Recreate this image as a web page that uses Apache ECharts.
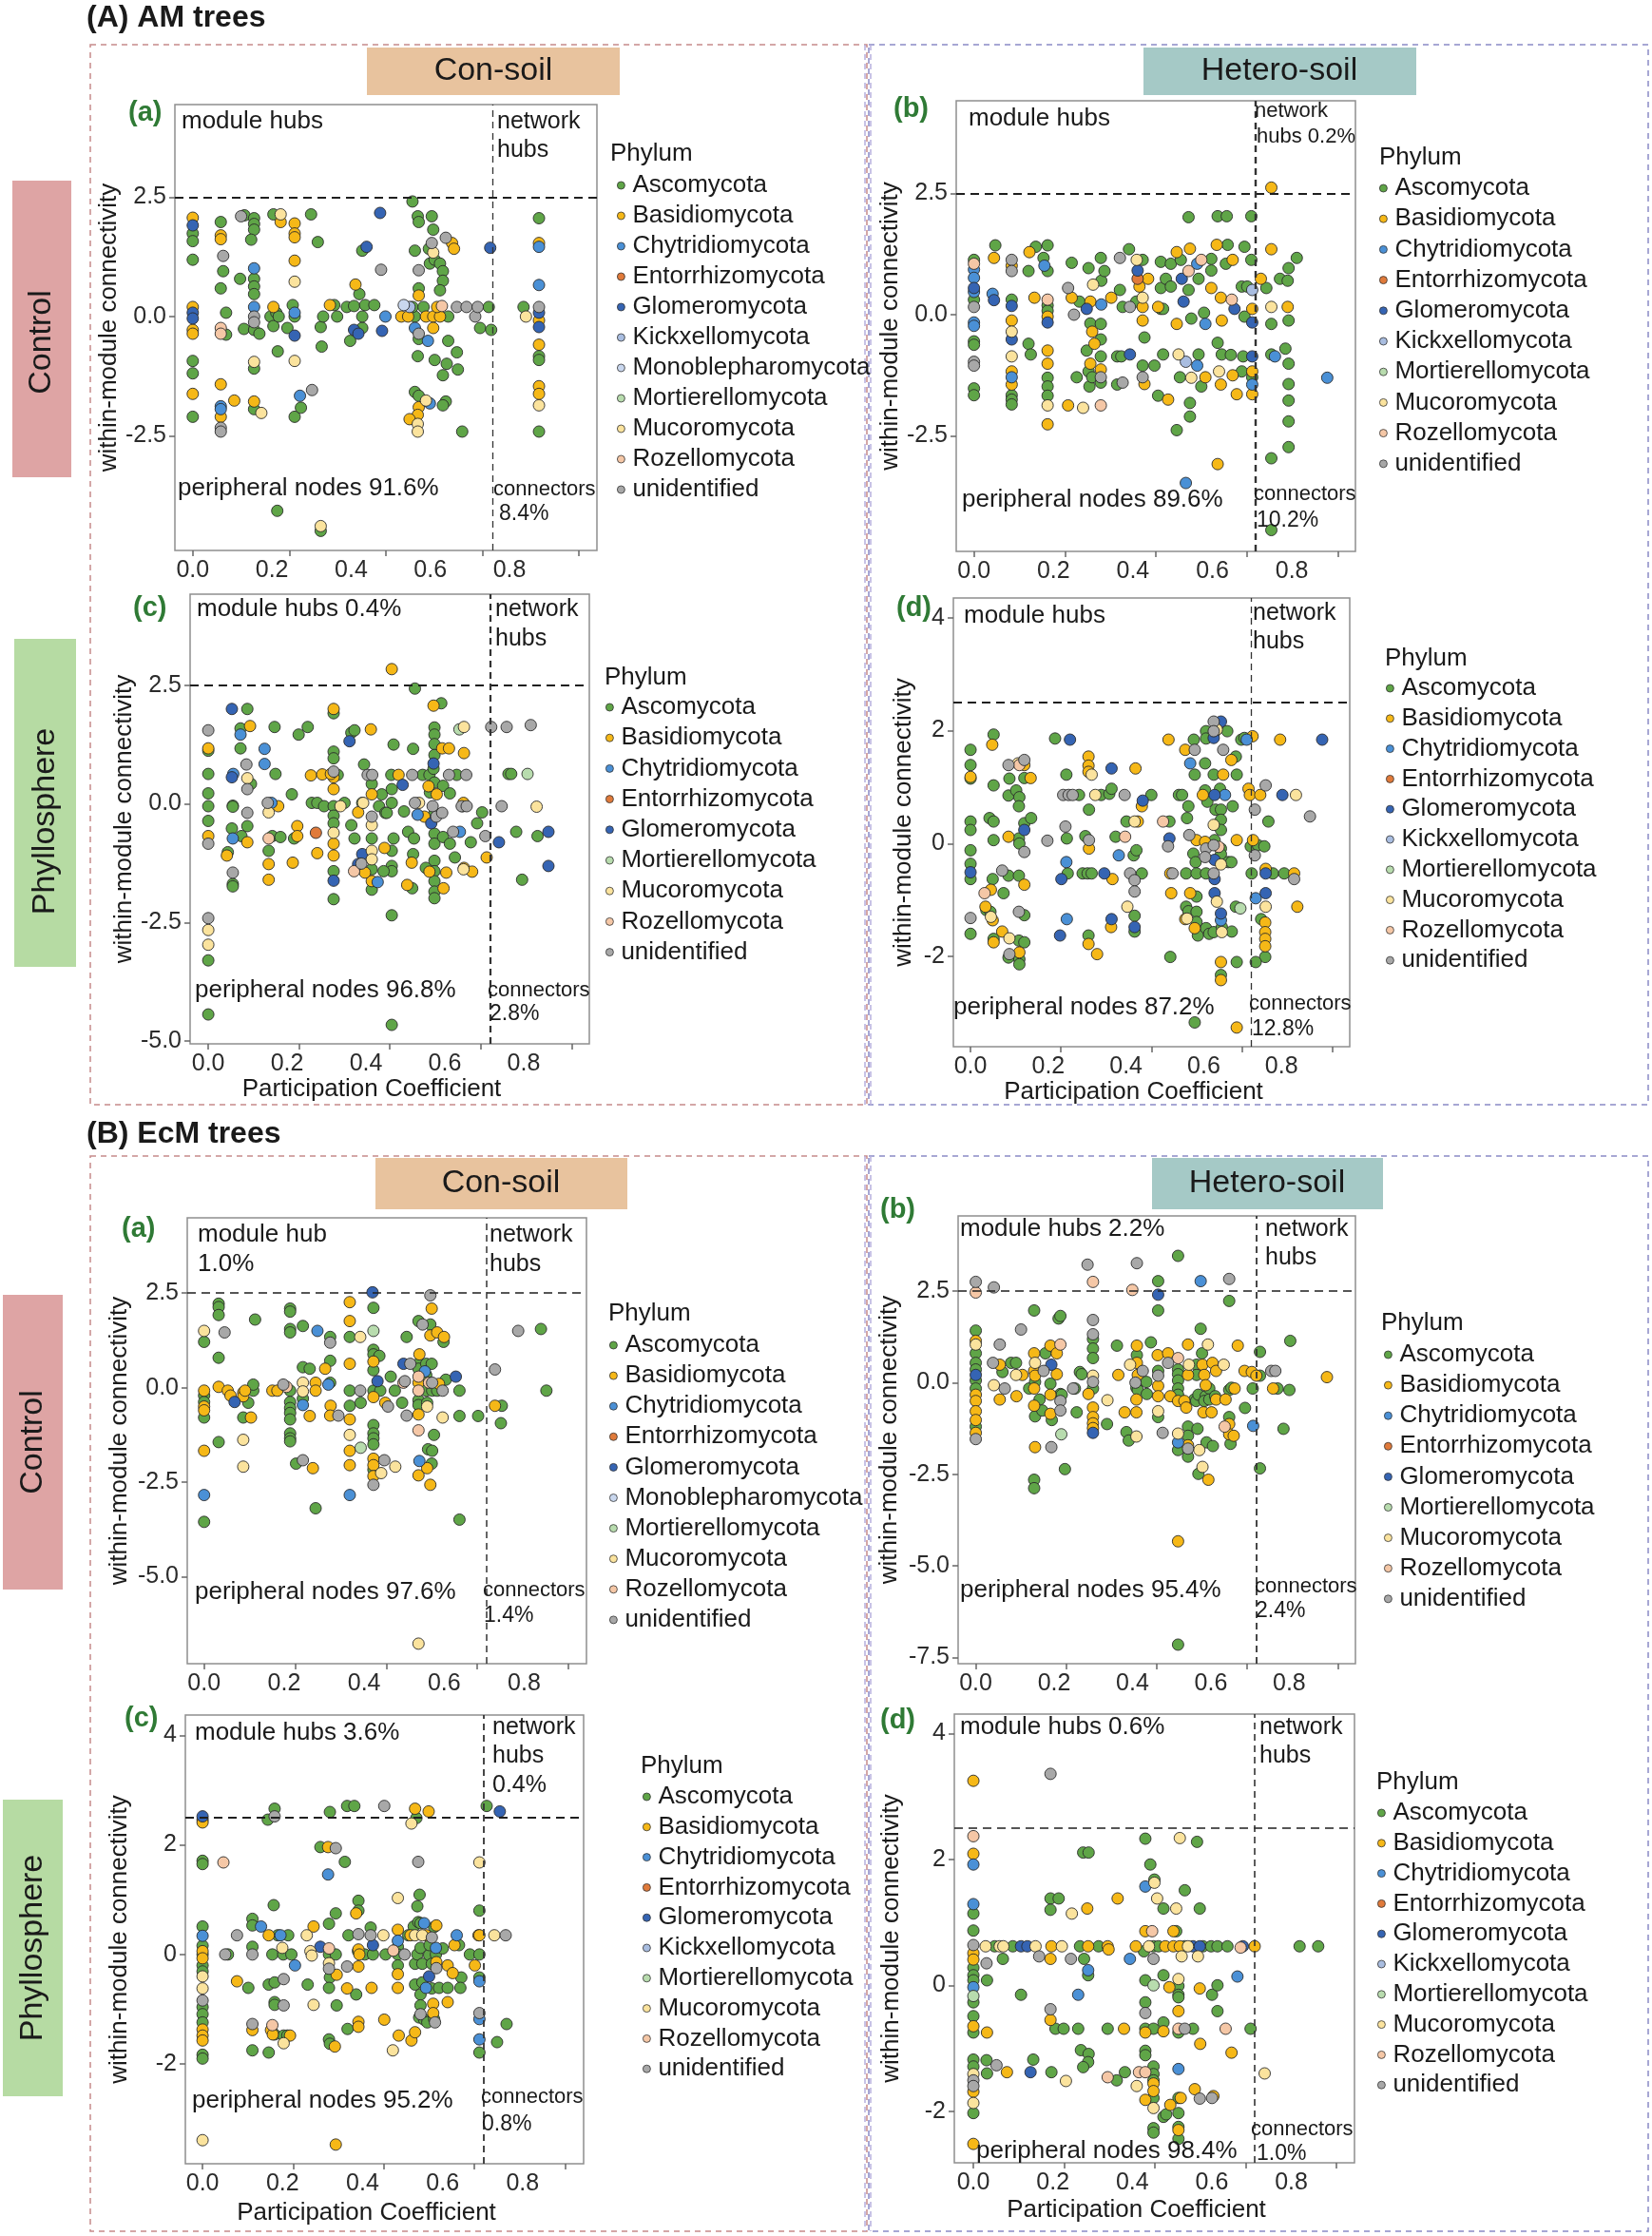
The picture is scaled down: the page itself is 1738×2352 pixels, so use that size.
<!DOCTYPE html>
<html>
<head>
<meta charset="utf-8">
<script src="https://cdn.jsdelivr.net/npm/echarts@6/dist/echarts.min.js"></script>
<style>
html, body { margin: 0; padding: 0; background: #fff; }
#chart { width: 1738px; height: 2352px; }
</style>
</head>
<body>
<div id="chart"></div>
<script>
// phylum names and colours
var phyla = ["Ascomycota", "Basidiomycota", "Chytridiomycota", "Entorrhizomycota", "Glomeromycota",
    "Kickxellomycota", "Monoblepharomycota", "Mortierellomycota", "Mucoromycota", "Rozellomycota", "unidentified"];
var phylumColors = ["#5fa547", "#f6b817", "#4a90d6", "#e07a3a", "#3564b3",
    "#a9bde0", "#c9d7ee", "#b8dcae", "#fbe39d", "#f5c7a6", "#a8a8a8"];
var xTicks = [0, 0.2, 0.4, 0.6, 0.8];

// (A) AM trees, control, con-soil
var amCC_Asc = [[0,1.74],[0,1.58],[0,1.19],[0,-0.93],[0,-1.19],[0,-2.10],[0.058,1.98],[0.063,0.95],[0.058,0.59],[0.069,0.08],[0.069,-0.38],[0.107,2.12],[0.098,0.79],[0.106,-0.26],[0.127,2.06],[0.127,1.94],[0.127,1.82],[0.121,1.61],[0.127,0.79],[0.127,0.63],[0.127,0.47],[0.127,-0.28],[0.127,-1.09],[0.127,-1.94],[0.138,-0.36],[0.167,2.14],[0.161,0],[0.167,-0.2],[0.176,-0.73],[0.173,0.08],[0.178,0],[0.207,0.24],[0.211,0],[0.211,-2.10],[0.196,-0.24],[0.224,-1.91],[0.245,2.14],[0.259,1.56],[0.265,-0.22],[0.267,-0.63],[0.270,0],[0.293,0.24],[0.299,0],[0.326,-0.51],[0.319,0.20],[0.334,0.22],[0.345,0.47],[0.351,1.38],[0.351,-0.24],[0.357,0.24],[0.376,0.24],[0.351,0],[0.455,2.41],[0.460,0],[0.455,0.20],[0.466,2.10],[0.468,1.98],[0.460,1.38],[0.468,0.59],[0.468,-0.47],[0.466,-0.83],[0.460,-1.58],[0.468,-1.66],[0.478,0.20],[0.495,2.10],[0.498,1.82],[0.489,1.42],[0.491,1.11],[0.501,1.19],[0.501,-0.91],[0.512,1.11],[0.518,0.95],[0.518,0.75],[0.512,0.55],[0.529,0],[0.529,-0.51],[0.526,-0.99],[0.524,-1.78],[0.518,-1.86],[0.547,-0.75],[0.549,-1.11],[0.518,-1.23],[0.558,-2.41],[0.595,-0.24],[0.613,0.20],[0.618,-0.28],[0.685,0.20],[0.717,2.06],[0.717,-0.83],[0.717,-0.91],[0.717,-2.41],[0.175,-4.07],[0.265,-4.49]];
var amCC_Bas = [[0,2.07],[0,0.20],[0,-0.28],[0,-0.36],[0,-1.62],[0.058,1.70],[0.058,1.62],[0.058,-1.42],[0.058,-2.10],[0.086,-1.76],[0.127,-1.78],[0.182,1.98],[0.167,0.20],[0.211,1.95],[0.211,1.74],[0.211,1.66],[0.211,1.17],[0.284,0.24],[0.337,0.67],[0.432,0],[0.446,0],[0.468,0.44],[0.468,-1.90],[0.466,-2.06],[0.449,-2.15],[0.483,0],[0.498,0],[0.498,-0.24],[0.512,0],[0.506,0.20],[0.537,1.54],[0.541,1.42],[0.717,1.54],[0.717,-0.08],[0.717,-0.59],[0.717,-1.46],[0.717,-1.62]];
var amCC_Chy = [[0.127,1.01],[0.127,0.20],[0.211,0.08],[0.222,-1.66],[0.058,-1.88],[0.058,-1.94],[0.399,0],[0.460,-0.24],[0.487,-0.51],[0.491,-1.82],[0.717,1.46],[0.717,0.66]];
var amCC_Glo = [[0,1.91],[0,0.08],[0,-0.04],[0.211,-0.40],[0.360,1.46],[0.334,-0.28],[0.343,-0.36],[0.388,2.17],[0.392,-0.30],[0.616,1.44],[0.717,0.08],[0.717,-0.22]];
var amCC_Kic = [[0.449,0.20]];
var amCC_Mon = [[0.437,0.24]];
var amCC_Muc = [[0.127,-0.95],[0.142,-2.02],[0.182,2.14],[0.211,0.73],[0.211,-0.93],[0.466,-2.25],[0.466,-2.41],[0.483,-1.76],[0.498,1.34],[0.690,0],[0.717,-1.86],[0.265,-4.39]];
var amCC_Roz = [[0.058,-0.24],[0.058,-0.36],[0.516,0.22]];
var amCC_Uni = [[0.063,1.27],[0.058,-2.33],[0.058,-2.41],[0.100,2.10],[0.127,0],[0.127,-0.12],[0.247,-1.54],[0.390,0.98],[0.468,0.97],[0.468,-0.36],[0.495,1.54],[0.524,1.65],[0.547,0.20],[0.567,0.20],[0.585,0],[0.590,0.20],[0.717,0.20]];

// (A) AM trees, control, hetero-soil
var amCH_Asc = [[0,1.13],[0,0.31],[0,-0.55],[0,-0.62],[0,-1.52],[0,-1.66],[0.047,1.43],[0.083,0.31],[0.083,-1.66],[0.083,-1.75],[0.083,-1.85],[0.120,0.90],[0.136,1.40],[0.120,-0.60],[0.125,-0.82],[0.153,1.17],[0.162,0.90],[0.162,1.43],[0.162,0.19],[0.162,0.08],[0.162,-1.30],[0.162,-1.48],[0.162,-1.67],[0.215,1.07],[0.232,0.27],[0.252,0.96],[0.256,-0.18],[0.248,-0.74],[0.252,-1.17],[0.254,-1.48],[0.226,-1.29],[0.260,-1.29],[0.279,1.17],[0.280,0.70],[0.279,-0.19],[0.279,-0.51],[0.279,-0.86],[0.279,-1.40],[0.287,0.90],[0.321,0.51],[0.327,0.16],[0.315,-0.86],[0.324,-0.86],[0.315,-1.44],[0.341,1.35],[0.357,0.27],[0.371,1.13],[0.375,-0.47],[0.371,-1.05],[0.411,1.09],[0.411,0.55],[0.411,0.12],[0.416,-0.82],[0.397,-1.05],[0.416,0.12],[0.422,0.74],[0.405,-1.67],[0.433,1.05],[0.433,0.58],[0.455,1.13],[0.453,-1.29],[0.446,-2.38],[0.472,2.01],[0.478,-0.08],[0.475,-1.82],[0.475,-2.10],[0.472,0.51],[0.494,0.74],[0.506,0.04],[0.494,-0.82],[0.500,-1.48],[0.522,1.15],[0.522,0.91],[0.536,2.03],[0.556,2.03],[0.558,1.44],[0.536,-0.58],[0.545,-0.82],[0.554,1.05],[0.565,-0.83],[0.589,-1.17],[0.595,1.40],[0.589,0.58],[0.595,-0.04],[0.592,-0.86],[0.601,0.58],[0.610,2.03],[0.610,1.13],[0.612,-1.29],[0.643,0.55],[0.654,-0.19],[0.654,-0.82],[0.654,-2.96],[0.654,-4.44],[0.673,0.74],[0.690,0.70],[0.692,0.96],[0.710,1.17],[0.692,-0.12],[0.685,-0.70],[0.692,-1.01],[0.692,-1.43],[0.692,-1.77],[0.692,-2.20],[0.692,-2.73]];
var amCH_Bas = [[0.044,1.17],[0.083,1.01],[0.083,-0.12],[0.083,-1.17],[0.083,-1.44],[0.122,1.29],[0.133,0.35],[0.162,-0.04],[0.162,-0.74],[0.162,-1.01],[0.162,-2.26],[0.215,0.35],[0.207,-1.87],[0.256,0.27],[0.260,-0.35],[0.265,-0.60],[0.256,-1.01],[0.279,-1.13],[0.302,0.35],[0.364,0.58],[0.371,0.16],[0.371,-0.12],[0.375,-1.43],[0.383,0.74],[0.405,0.16],[0.427,-1.75],[0.446,1.29],[0.446,-0.19],[0.475,1.36],[0.509,-1.29],[0.522,0.55],[0.534,1.44],[0.543,0.35],[0.545,-0.12],[0.543,-1.44],[0.536,-3.08],[0.569,1.13],[0.569,-1.25],[0.578,-1.64],[0.612,0.12],[0.612,-1.17],[0.612,-1.64],[0.631,0.74],[0.654,2.62],[0.654,1.35],[0.690,0.16]];
var amCH_Chy = [[0,0.93],[0,0.76],[0,0.47],[0,-0.16],[0,-0.23],[0.041,0.43],[0.083,-1.29],[0.155,1.01],[0.280,0.21],[0.491,1.05],[0.509,-0.19],[0.491,-1.05],[0.466,-3.47],[0.612,-1.44],[0.662,-0.86],[0.777,-1.30]];
var amCH_Ent = [[0.360,0.74]];
var amCH_Glo = [[0,0.55],[0.044,0.30],[0.083,0.18],[0.083,-0.51],[0.162,-0.16],[0.248,0.12],[0.343,-0.82],[0.360,0.91],[0.457,0.74],[0.461,0.27],[0.573,0.12],[0.612,-0.16],[0.612,-0.86]];
var amCH_Kic = [[0.466,-0.97],[0.612,0.51]];
var amCH_Muc = [[0.083,-0.35],[0.083,-0.86],[0.162,-1.87],[0.262,0.62],[0.240,-1.92],[0.358,1.13],[0.371,0.35],[0.450,-0.82],[0.478,-1.30],[0.539,-1.17],[0.654,0.16]];
var amCH_Roz = [[0,1.05],[0.162,0.31],[0.279,-1.87],[0.472,0.90],[0.500,1.13],[0.567,0.31]];
var amCH_Uni = [[0,0.16],[0,-0.97],[0,-1.05],[0.083,1.13],[0.083,0.90],[0.207,0.55],[0.220,0],[0.279,-1.29],[0.321,1.17],[0.327,-1.40],[0.343,0.16],[0.371,-1.29]];

// (A) AM trees, phyllosphere, con-soil
var amPC_Asc = [[0,1.12],[0,0.63],[0,0.22],[0,-0.05],[0,-0.36],[0,-3.30],[0,-4.44],[0.043,-1.02],[0.054,-0.04],[0.054,-0.06],[0.052,-0.52],[0.054,-1.69],[0.054,-1.74],[0.086,2.00],[0.071,1.59],[0.071,1.17],[0.094,0.42],[0.086,-0.47],[0.073,-0.68],[0.133,-0.99],[0.146,1.62],[0.148,0.63],[0.141,-0.68],[0.159,-0.70],[0.184,0.20],[0.199,1.46],[0.219,1.62],[0.189,-0.73],[0.228,0.02],[0.240,0.02],[0.255,-0.05],[0.276,1.91],[0.276,1.10],[0.276,0.96],[0.276,-0.05],[0.276,-0.25],[0.276,-0.41],[0.276,-1.42],[0.276,-2.01],[0.285,0.61],[0.300,0.02],[0.315,1.50],[0.322,1.55],[0.315,-0.45],[0.322,-0.73],[0.343,0.83],[0.339,0.02],[0.360,0.42],[0.360,-0.73],[0.360,-1.38],[0.360,-1.81],[0.376,-0.05],[0.382,0.20],[0.390,-0.19],[0.393,-0.19],[0.404,-2.35],[0.404,-4.66],[0.404,0.02],[0.404,0.31],[0.408,1.25],[0.403,0.61],[0.404,-0.99],[0.404,-1.31],[0.404,-1.42],[0.408,-0.73],[0.386,-1.42],[0.431,-0.16],[0.440,-0.59],[0.449,-1.78],[0.451,1.16],[0.455,2.43],[0.453,-0.73],[0.451,-1.06],[0.472,0.61],[0.479,-1.35],[0.487,0.61],[0.488,0.24],[0.496,0.74],[0.498,1.61],[0.498,1.46],[0.498,1.26],[0.498,1.03],[0.498,0.45],[0.498,-0.19],[0.498,-0.63],[0.498,-0.84],[0.498,-1.20],[0.498,-1.42],[0.498,-1.63],[0.498,-1.85],[0.498,-1.99],[0.513,2.12],[0.517,0.38],[0.517,-0.70],[0.532,0.22],[0.532,-0.84],[0.543,-1.13],[0.547,0.61],[0.560,-0.05],[0.578,-0.81],[0.592,-0.41],[0.603,-0.18],[0.661,0.63],[0.667,0.63],[0.678,-0.59],[0.725,-0.68],[0.691,-1.60]];
var amPC_Bas = [[0,1.17],[0,-0.68],[0.041,-1.09],[0.092,1.64],[0.086,-0.81],[0.154,-0.05],[0.133,-1.27],[0.133,-1.60],[0.196,-0.47],[0.196,-0.68],[0.186,-1.24],[0.226,0.60],[0.240,-1.04],[0.251,0.62],[0.276,2.00],[0.276,0.56],[0.276,0.31],[0.276,-0.84],[0.276,-1.09],[0.270,0.63],[0.330,-0.18],[0.358,1.57],[0.360,0.20],[0.360,-1.63],[0.345,-1.45],[0.388,-0.93],[0.419,0.61],[0.438,-1.71],[0.448,-1.24],[0.476,-0.27],[0.485,0.37],[0.496,2.07],[0.503,0.20],[0.487,-1.43],[0.515,1.17],[0.530,1.17],[0.524,-1.45],[0.518,-1.78],[0.563,1.07],[0.562,0.02],[0.563,-1.35],[0.581,-1.43],[0.613,-1.13],[0.404,2.84]];
var amPC_Chy = [[0.055,0.63],[0.054,-0.73],[0.071,1.46],[0.124,1.16],[0.124,0.84],[0.139,0.02],[0.373,-1.65],[0.461,-0.23],[0.554,-0.59]];
var amPC_Ent = [[0.237,-0.61]];
var amPC_Glo = [[0.052,2.00],[0.052,0.56],[0.276,-1.62],[0.311,1.32],[0.339,-1.06],[0.330,-1.27],[0.428,0.40],[0.491,-0.41],[0.496,0.85],[0.640,-0.81],[0.749,-0.59],[0.749,-1.31]];
var amPC_Mor = [[0.553,1.57],[0.703,0.63]];
var amPC_Muc = [[0,-2.66],[0,-2.97],[0.086,0.54],[0.133,-0.18],[0.276,-0.61],[0.291,-0.05],[0.341,0.02],[0.360,-0.45],[0.360,-0.99],[0.360,-1.17],[0.464,0.02],[0.563,1.62],[0.562,-1.38],[0.723,-0.06]];
var amPC_Roz = [[0.133,-0.73],[0.321,-1.42]];
var amPC_Uni = [[0,1.55],[0,-0.84],[0,-2.41],[0.054,-1.45],[0.084,0.83],[0.086,0.31],[0.086,-0.19],[0.131,0.02],[0.276,0.68],[0.337,-1.26],[0.351,0.61],[0.361,0.61],[0.360,-0.27],[0.449,0.61],[0.455,0.02],[0.494,-0.05],[0.502,-0.27],[0.515,-0.19],[0.539,-0.59],[0.530,0.61],[0.568,0.61],[0.558,-0.05],[0.569,-0.05],[0.610,-0.68],[0.623,1.62],[0.657,1.62],[0.710,1.66],[0.646,-0.05]];

// (A) AM trees, phyllosphere, hetero-soil
var amPH_Asc = [[0,1.66],[0,1.39],[0,1.15],[0,0.39],[0,0.24],[0,-0.12],[0,-0.36],[0,-0.63],[0,-1.60],[0.051,1.93],[0.051,1.03],[0.042,0.45],[0.051,0.39],[0.051,0.06],[0.049,-0.63],[0.035,-1.18],[0.051,-1.69],[0.044,-1.21],[0.086,1.15],[0.084,0.85],[0.084,-0.57],[0.073,-0.88],[0.084,-2.02],[0.119,1.16],[0.101,0.94],[0.108,0.82],[0.107,0.66],[0.119,0.36],[0.134,0.45],[0.107,0.09],[0.108,0],[0.107,-0.57],[0.119,-1.27],[0.107,-1.72],[0.119,-1.75],[0.108,-2.05],[0.108,-2.14],[0.187,1.86],[0.212,1.22],[0.213,0.09],[0.215,-0.53],[0.240,0.86],[0.248,-0.53],[0.254,0.13],[0.262,0.60],[0.259,-0.53],[0.268,-0.53],[0.261,-1.63],[0.289,0.86],[0.307,0.88],[0.312,0.97],[0.321,0.12],[0.345,0.39],[0.361,-0.21],[0.363,-1.28],[0.363,-1.56],[0.379,-0.53],[0.400,0.86],[0.367,-0.12],[0.440,0.39],[0.442,-2.01],[0.461,0.86],[0.468,0.86],[0.477,-0.53],[0.477,-1.12],[0.482,-1.20],[0.482,0.66],[0.479,0.45],[0.496,-3.17],[0.493,-0.18],[0.494,1.84],[0.496,1.22],[0.498,-0.33],[0.500,-0.53],[0.500,-0.94],[0.500,-1.21],[0.500,-1.39],[0.503,-1.63],[0.519,0.94],[0.519,1.42],[0.521,1.99],[0.521,1.86],[0.521,-0.53],[0.521,-1.50],[0.524,0.74],[0.528,-1.60],[0.542,1.99],[0.538,1.22],[0.542,0.60],[0.540,0.06],[0.538,-1.57],[0.554,-2.33],[0.552,0.97],[0.554,0.60],[0.554,0.42],[0.554,0.24],[0.554,-0.09],[0.554,-0.19],[0.556,-1.48],[0.568,1.99],[0.587,1.54],[0.589,1.22],[0.580,0.66],[0.570,-0.33],[0.577,-0.33],[0.587,-1.12],[0.578,-1.56],[0.589,-2.10],[0.599,1.84],[0.606,1.87],[0.659,0.39],[0.620,-0.05],[0.636,-0.03],[0.650,-0.05],[0.622,-0.53],[0.669,-0.53],[0.694,-0.53],[0.643,-1.34],[0.652,-2.01],[0.631,-2.10]];
var amPH_Bas = [[0,1.18],[0.048,1.75],[0.045,-0.82],[0.033,-1.12],[0.049,-1.36],[0.051,-1.75],[0.084,0.12],[0.070,-1.56],[0.119,1.39],[0.133,1.16],[0.119,-0.73],[0.108,-1.93],[0.261,1.54],[0.261,1.38],[0.261,1.27],[0.262,-0.09],[0.261,-1.78],[0.280,-1.96],[0.314,-0.63],[0.311,-1.48],[0.365,1.33],[0.370,0.39],[0.379,0.66],[0.438,1.84],[0.442,-0.53],[0.444,-0.88],[0.475,1.66],[0.475,-1.34],[0.486,-0.88],[0.500,0.06],[0.496,-1.50],[0.514,0.86],[0.519,0.03],[0.554,-2.10],[0.554,-2.42],[0.559,1.22],[0.577,1.48],[0.589,0.06],[0.589,-3.26],[0.624,1.90],[0.615,0.97],[0.618,0.86],[0.641,0.86],[0.625,0.06],[0.653,-0.45],[0.652,-1.40],[0.652,-1.57],[0.652,-1.69],[0.652,-1.82],[0.685,1.84],[0.716,-0.53],[0.723,-1.12]];
var amPH_Chy = [[0.212,-0.33],[0.213,-1.34],[0.328,-0.21],[0.486,1.42],[0.554,-1.36],[0.563,0.86],[0.611,1.84],[0.631,-0.97]];
var amPH_Glo = [[0,-0.51],[0.119,0.24],[0.220,1.84],[0.201,-0.63],[0.198,-1.63],[0.296,-0.53],[0.312,1.33],[0.312,-1.34],[0.363,-1.48],[0.381,0.76],[0.440,0.09],[0.538,1.87],[0.554,2.16],[0.540,0.86],[0.540,-0.29],[0.540,-0.63],[0.540,-0.88],[0.554,-1.24],[0.653,-0.53],[0.653,-0.88],[0.690,0.86],[0.778,1.84]];
var amPH_Mor = [[0.597,-1.15]];
var amPH_Muc = [[0.045,-1.30],[0.086,-1.68],[0.105,1.42],[0.268,1.22],[0.276,0.86],[0.347,-1.12],[0.363,0.39],[0.479,-1.33],[0.545,2.02],[0.538,0.33],[0.545,-1.03],[0.556,-1.57],[0.554,-0.37],[0.653,-1.12],[0.720,0.86]];
var amPH_Roz = [[0.031,-0.88],[0.108,1.39],[0.342,0.12],[0.426,0.39],[0.549,-0.06]];
var amPH_Uni = [[0,-1.32],[0.084,1.39],[0.070,-0.48],[0.119,1.48],[0.119,-0.15],[0.107,-1.21],[0.086,-1.96],[0.170,0.05],[0.205,0.86],[0.217,0.86],[0.226,0.86],[0.210,0.30],[0.262,0.06],[0.341,0.86],[0.353,-0.53],[0.363,-0.65],[0.363,-0.85],[0.437,-0.05],[0.447,-0.53],[0.484,0.15],[0.496,1.66],[0.521,-0.09],[0.519,-0.24],[0.538,2.16],[0.538,1.99],[0.538,-0.03],[0.538,-0.53],[0.559,1.66],[0.629,0.60],[0.653,1.03],[0.629,-0.21],[0.751,0.48],[0.716,-0.63]];

// (B) EcM trees, control, con-soil
var ecCC_Asc = [[0,1.21],[0,-0.21],[0,-0.38],[0,-0.79],[0,-3.55],[0.032,2.22],[0.032,2.13],[0.032,1.92],[0.032,0.79],[0.032,-1.44],[0.097,-0.40],[0.086,-0.79],[0.108,-0.08],[0.108,0.08],[0.112,1.80],[0.189,2.09],[0.189,2.01],[0.189,1.55],[0.189,1.46],[0.189,-0.08],[0.189,-0.38],[0.189,-0.54],[0.189,-0.67],[0.189,-0.84],[0.189,-1.21],[0.189,-1.34],[0.189,-1.42],[0.202,-2.01],[0.217,1.63],[0.217,-0.29],[0.217,0.54],[0.232,0.50],[0.245,-3.19],[0.277,1.34],[0.277,0.71],[0.277,0.13],[0.320,1.34],[0.320,-0.08],[0.320,-0.48],[0.344,-0.40],[0.372,2.11],[0.372,1.00],[0.372,0.88],[0.372,0.46],[0.372,-0.08],[0.372,-0.99],[0.372,-1.21],[0.372,-1.34],[0.372,-1.50],[0.372,-2.17],[0.385,0.84],[0.387,-0.08],[0.410,0.29],[0.419,-0.08],[0.435,-0.40],[0.445,1.34],[0.471,1.76],[0.471,0.63],[0.471,0.50],[0.471,-0.33],[0.471,-0.46],[0.488,0.63],[0.488,0.33],[0.488,-0.08],[0.490,-0.40],[0.497,1.67],[0.500,0.63],[0.501,-0.08],[0.505,-1.25],[0.492,-1.63],[0.501,-1.67],[0.500,-2.01],[0.526,1.21],[0.531,0.21],[0.512,-0.08],[0.561,-0.08],[0.561,-0.75],[0.561,-3.49],[0.602,-0.75],[0.654,-0.48],[0.652,-0.94],[0.740,1.55],[0.752,-0.08]];
var ecCC_Bas = [[0,-0.08],[0,-0.50],[0,-0.60],[0,-1.67],[0.032,0.02],[0.052,-0.08],[0.058,-0.21],[0.086,-0.13],[0.086,-0.23],[0.090,-0.08],[0.103,-0.79],[0.150,-0.08],[0.161,-0.08],[0.232,-0.75],[0.239,-2.13],[0.245,0.13],[0.245,-0.08],[0.266,0.50],[0.278,-0.48],[0.277,-0.74],[0.320,2.26],[0.320,1.76],[0.320,0.63],[0.320,-0.84],[0.320,-1.67],[0.320,-2.05],[0.372,0.69],[0.372,-0.25],[0.372,-1.88],[0.372,-2.05],[0.372,-2.34],[0.398,-0.40],[0.473,0.88],[0.471,0.13],[0.471,-0.71],[0.471,-2.32],[0.500,2.09],[0.497,1.38],[0.490,-2.13],[0.497,-2.57],[0.512,1.46],[0.516,0.10],[0.527,1.34],[0.639,-0.48]];
var ecCC_Chy = [[0,-2.84],[0.217,-0.46],[0.249,1.50],[0.273,0.08],[0.320,-2.84],[0.473,-1.94],[0.485,0.43]];
var ecCC_Glo = [[0.067,-0.38],[0.370,2.52],[0.381,0.17],[0.438,0.63],[0.553,0.29]];
var ecCC_Mor = [[0.344,-1.59],[0.372,1.50]];
var ecCC_Muc = [[0,1.50],[0.086,-1.38],[0.086,-2.09],[0.217,0.13],[0.217,-0.10],[0.320,-1.25],[0.343,1.34],[0.389,-2.26],[0.420,-2.09],[0.471,-6.77],[0.490,-0.50],[0.524,-0.79]];
var ecCC_Roz = [[0.181,0.02],[0.438,0.13],[0.471,0.29],[0.471,-0.08],[0.471,-1.13],[0.494,0.13]];
var ecCC_Uni = [[0.045,1.46],[0.174,0.08],[0.217,-1.92],[0.277,1.19],[0.295,-0.74],[0.343,-0.08],[0.372,-2.57],[0.404,-0.50],[0.396,-1.92],[0.441,0.17],[0.445,-0.74],[0.453,0.63],[0.480,1.67],[0.497,2.44],[0.501,0.13],[0.524,-0.08],[0.639,0.48],[0.690,1.50]];

// (B) EcM trees, control, hetero-soil
var ecCH_Asc = [[0,1.42],[0,0.80],[0,0.54],[0,0.36],[0,0.06],[0,-0.16],[0,-1.20],[0.059,0.29],[0.078,0.54],[0.089,0.54],[0.118,-0.16],[0.129,1.97],[0.131,0.02],[0.131,-0.92],[0.129,-2.65],[0.129,-2.88],[0.141,-0.46],[0.147,-0.76],[0.154,0.80],[0.165,-0.03],[0.168,-1.02],[0.183,1.75],[0.187,1.82],[0.187,-0.31],[0.197,-2.36],[0.190,-0.33],[0.219,-0.16],[0.223,-0.81],[0.230,0.29],[0.234,0.23],[0.259,1.19],[0.259,0.93],[0.259,0.67],[0.259,-0.16],[0.290,-1.13],[0.312,1.01],[0.333,-1.35],[0.338,-1.58],[0.355,-0.14],[0.356,0.75],[0.358,-0.20],[0.377,0.02],[0.378,-0.31],[0.387,1.10],[0.403,2.77],[0.403,1.97],[0.403,0.32],[0.403,-0.94],[0.447,3.46],[0.447,0.36],[0.447,0.23],[0.447,0.06],[0.447,-0.16],[0.447,-0.33],[0.447,-1.84],[0.447,-7.15],[0.469,-1.20],[0.469,-1.45],[0.469,-2.02],[0.488,0.49],[0.488,0.21],[0.483,-0.46],[0.487,-0.50],[0.492,-0.33],[0.490,-1.26],[0.497,1.47],[0.500,0.80],[0.508,-0.37],[0.505,-0.50],[0.492,-2.49],[0.510,-1.63],[0.516,-0.16],[0.516,-0.46],[0.524,-1.73],[0.529,-0.37],[0.560,2.23],[0.560,-0.20],[0.560,-0.94],[0.563,-1.67],[0.565,-0.14],[0.595,-0.69],[0.612,-0.16],[0.628,0.84],[0.628,0.19],[0.628,-2.34],[0.667,-0.16],[0.680,-1.26],[0.693,-0.20],[0.695,1.14]];
var ecCH_Bas = [[0,1.14],[0,-0.33],[0,-0.50],[0,-0.78],[0,-1.02],[0,-1.37],[0.053,0.49],[0.053,-0.46],[0.090,-0.37],[0.103,0.21],[0.129,0.80],[0.129,0.32],[0.131,0.19],[0.129,-0.16],[0.129,-0.63],[0.131,-1.76],[0.165,1.01],[0.165,-0.33],[0.165,-0.85],[0.179,0.80],[0.179,0.23],[0.249,-0.31],[0.259,-0.68],[0.259,-0.94],[0.259,-1.11],[0.259,-1.24],[0.315,0.21],[0.329,-0.81],[0.355,-0.81],[0.355,-0.46],[0.356,1.01],[0.356,0.54],[0.358,0.21],[0.402,0.75],[0.403,-0.09],[0.403,-0.37],[0.425,0.80],[0.430,-0.37],[0.447,-0.50],[0.447,-4.33],[0.469,1.04],[0.469,0.21],[0.461,-0.50],[0.465,-0.68],[0.469,-1.71],[0.501,0.49],[0.505,0.21],[0.508,-0.07],[0.503,-0.81],[0.514,-2.65],[0.523,0.54],[0.521,-0.81],[0.531,0.32],[0.531,-0.46],[0.552,-0.46],[0.560,-1.13],[0.560,-1.41],[0.570,-1.45],[0.572,-0.16],[0.579,1.01],[0.594,0.32],[0.610,0.29],[0.620,0.19],[0.657,-0.16],[0.776,0.15]];
var ecCH_Chy = [[0.447,-1.63],[0.497,2.77],[0.613,-1.18]];
var ecCH_Glo = [[0,0.21],[0.167,0.49],[0.259,-1.37],[0.403,2.40]];
var ecCH_Mor = [[0.189,-1.41]];
var ecCH_Muc = [[0,1.04],[0.040,-0.07],[0.089,0.21],[0.131,0.54],[0.259,0.19],[0.291,-0.48],[0.341,0.49],[0.355,-1.47],[0.403,-0.78],[0.447,-1.39],[0.471,0.49],[0.494,-1.84],[0.501,-2.30],[0.513,1.04],[0.548,0.49]];
var ecCH_Roz = [[0,2.46],[0.187,1.04],[0.259,2.75],[0.346,2.53],[0.447,0.67],[0.550,-1.20]];
var ecCH_Uni = [[0,2.75],[0,-1.54],[0.038,0.54],[0.040,2.60],[0.053,1.04],[0.064,-0.16],[0.100,1.45],[0.150,0.32],[0.167,-1.76],[0.187,-0.50],[0.187,-0.76],[0.215,-0.16],[0.247,3.22],[0.259,1.71],[0.259,1.32],[0.259,0.02],[0.353,0],[0.356,3.26],[0.369,0.32],[0.403,0.19],[0.413,-1.37],[0.425,0.54],[0.469,-1.80],[0.560,2.83],[0.653,0.32],[0.662,0.32]];

// (B) EcM trees, phyllosphere, con-soil
var ecPC_Asc = [[0,1.71],[0,1.65],[0,0.51],[0,0.16],[0,0],[0,-0.20],[0,-0.31],[0,-0.96],[0,-1.09],[0,-1.24],[0,-1.83],[0,-1.90],[0.056,0],[0.101,-0.61],[0.110,0.65],[0.110,0.53],[0.110,0.14],[0.110,-1.75],[0.146,-0.55],[0.146,-1.79],[0.157,0.90],[0.159,2.66],[0.144,2.46],[0.159,-0.87],[0.159,-0.92],[0.159,-0.51],[0.154,0],[0.159,-1.46],[0.166,0.35],[0.178,0],[0.179,-1.48],[0.189,0.35],[0.196,0],[0.187,-1.48],[0.232,-0.55],[0.260,1.96],[0.281,2.60],[0.279,0],[0.279,0.56],[0.281,-0.42],[0.279,-0.61],[0.279,-1.55],[0.281,-1.63],[0.294,0.75],[0.296,-0.93],[0.294,0],[0.314,1.69],[0.319,2.71],[0.335,2.71],[0.322,0.35],[0.320,-1.36],[0.339,-0.73],[0.344,0.98],[0.344,0.80],[0.343,0.06],[0.358,0],[0.371,0.49],[0.376,0],[0.404,0],[0.431,0.14],[0.431,0],[0.431,-0.20],[0.454,0.35],[0.466,0.51],[0.472,2.49],[0.469,-0.17],[0.469,-0.55],[0.479,1.09],[0.474,0.88],[0.476,0.59],[0.481,0.57],[0.474,0],[0.481,0.12],[0.485,-0.17],[0.485,-0.51],[0.481,-0.73],[0.481,-0.93],[0.478,-1.15],[0.489,-1.19],[0.496,-1.24],[0.500,-0.01],[0.501,0.17],[0.506,-0.17],[0.506,-0.62],[0.511,-1.18],[0.511,0.50],[0.515,0],[0.522,-0.61],[0.530,0.11],[0.541,-0.61],[0.566,0.17],[0.571,-0.42],[0.569,-0.61],[0.590,0],[0.611,0.80],[0.611,0],[0.611,-0.42],[0.611,-1.79],[0.627,2.71],[0.650,-1.60],[0.671,-1.27]];
var ecPC_Bas = [[0,2.46],[0,2.41],[0,0.06],[0,-0.07],[0,-1.37],[0,-1.48],[0,-1.57],[0.076,-0.49],[0.110,-1.38],[0.146,0.35],[0.151,-1.38],[0.155,-1.46],[0.193,-1.48],[0.245,0.51],[0.277,1.96],[0.296,-0.37],[0.292,-1.68],[0.294,-3.47],[0.319,-0.62],[0.339,0.75],[0.344,0.09],[0.346,0],[0.344,-0.22],[0.344,-1.23],[0.344,-1.32],[0.373,-0.61],[0.401,-1.19],[0.431,0.45],[0.431,-0.36],[0.431,-0.61],[0.433,-1.48],[0.459,0.35],[0.461,-1.57],[0.469,2.66],[0.469,-1.42],[0.494,0.35],[0.499,2.61],[0.509,-0.90],[0.509,-1.07],[0.516,0.53],[0.516,-0.14],[0.541,-0.20],[0.541,-0.87],[0.552,-0.34],[0.556,0.17],[0.601,-0.20],[0.609,0.35],[0.611,0.35]];
var ecPC_Chy = [[0,0.34],[0.129,0.51],[0.172,0.35],[0.204,-0.20],[0.277,1.46],[0.431,0.25],[0.489,0.57],[0.493,-0.61],[0.515,0.12],[0.561,0.35],[0.611,-0.49],[0.611,-1.18],[0.611,-1.55]];
var ecPC_Glo = [[0,2.52],[0.260,0.14],[0.376,0.17],[0.500,-0.40],[0.656,2.61]];
var ecPC_Muc = [[0,-0.40],[0,-0.62],[0,-3.39],[0.176,0.12],[0.179,-1.62],[0.230,0.35],[0.238,0.06],[0.241,-0.02],[0.245,-0.92],[0.279,-0.16],[0.399,0.35],[0.431,1.03],[0.420,-1.75],[0.461,2.39],[0.469,0.35],[0.485,0.35],[0.611,1.68],[0.644,0.35]];
var ecPC_Roz = [[0.046,1.68],[0.154,-1.29],[0.279,0.11],[0.421,0.07]];
var ecPC_Uni = [[0,-0.84],[0.050,0],[0.076,0.35],[0.110,0],[0.110,-1.27],[0.159,2.52],[0.179,-0.45],[0.179,-0.93],[0.279,-0.26],[0.294,1.94],[0.319,-0.22],[0.344,0.37],[0.371,0.35],[0.401,2.71],[0.446,0],[0.476,1.69],[0.481,-1.09],[0.506,0.31],[0.513,-1.24],[0.516,-0.25],[0.611,-1.07],[0.669,0.35]];

// (B) EcM trees, phyllosphere, hetero-soil
var ecPH_Asc = [[0,1.14],[0,0.87],[0,0.28],[0,0.16],[0,0.08],[0,-0.27],[0,-0.49],[0,-0.75],[0,-1.18],[0,-1.29],[0,-2.03],[0.047,0.62],[0.087,0.62],[0.235,0.62],[0.276,0.62],[0.376,0.54],[0.397,0.62],[0.408,0.62],[0.466,0.62],[0.506,0.62],[0.524,0.62],[0.538,0.62],[0.560,0.62],[0.719,0.62],[0.760,0.62],[0.030,0.08],[0.029,-1.19],[0.030,-1.40],[0.065,0.42],[0.105,-0.15],[0.132,-1.18],[0.170,1.38],[0.170,1.20],[0.188,1.38],[0.181,-0.69],[0.199,-0.69],[0.172,-1.38],[0.231,-0.69],[0.242,2.11],[0.254,2.11],[0.244,0.42],[0.253,0.16],[0.237,-1.03],[0.254,-1.09],[0.253,-1.22],[0.242,-1.30],[0.296,-0.69],[0.316,-1.51],[0.334,-1.38],[0.379,2.33],[0.390,1.92],[0.399,1.68],[0.379,0.08],[0.379,-0.27],[0.379,-0.69],[0.397,-0.69],[0.379,-1.04],[0.379,-1.11],[0.397,-1.29],[0.397,-1.41],[0.397,-1.51],[0.397,-1.79],[0.397,-2.27],[0.397,-2.34],[0.419,1.22],[0.419,0.16],[0.419,-0.59],[0.419,-2.09],[0.425,-2.05],[0.447,0.86],[0.452,-0.01],[0.452,-0.15],[0.452,-0.19],[0.452,-0.75],[0.452,-1.79],[0.452,-2.03],[0.452,-2.25],[0.452,-2.44],[0.466,1.51],[0.484,-0.69],[0.493,2.28],[0.499,1.22],[0.526,-0.15],[0.538,0],[0.538,-0.41],[0.611,-0.69]];
var ecPH_Bas = [[0,3.25],[0,2.09],[0,0.51],[0,0.41],[0,-0.65],[0,-1.69],[0,-2.52],[0.172,0.62],[0.253,0.62],[0.296,0.62],[0.358,0.62],[0.423,0.62],[0.441,0.62],[0.455,0.62],[0.620,0.62],[0.030,-0.75],[0.074,-1.38],[0.170,0.42],[0.170,-0.55],[0.251,1.22],[0.298,0.57],[0.318,1.38],[0.332,-0.69],[0.379,0.86],[0.379,-0.75],[0.397,-1.56],[0.397,-1.68],[0.379,-1.82],[0.419,-0.73],[0.432,-0.03],[0.434,-1.90],[0.441,0.86],[0.452,-0.41],[0.452,-2.30],[0.457,-1.79],[0.488,-1.65],[0.499,-0.05],[0.500,-0.93],[0.529,-1.76],[0.569,-1.07]];
var ecPH_Chy = [[0,1.92],[0,1.29],[0,-0.03],[0.231,-0.15],[0.253,0.24],[0.345,0.42],[0.379,1.57],[0.452,-1.33],[0.582,0.14]];
var ecPH_Glo = [[0.105,0.62],[0.119,0.62],[0.484,0.62],[0.499,0.62],[0.594,0.62],[0.126,-1.38]];
var ecPH_Mor = [[0,-0.17],[0.397,0]];
var ecPH_Muc = [[0,-1.41],[0,-1.87],[0.027,0.62],[0.058,0.62],[0.066,0.62],[0.137,0.62],[0.195,0.62],[0.387,0.62],[0.473,0.62],[0.204,-1.52],[0.217,1.14],[0.360,-1.60],[0.399,1.63],[0.405,1.38],[0.397,-1.95],[0.447,1.22],[0.452,0.10],[0.455,2.34],[0.459,0.46],[0.495,0.46],[0.642,-1.40]];
var ecPH_Roz = [[0,2.37],[0.589,0.60],[0.296,-1.46],[0.365,-1.38],[0.394,0.86],[0.379,-1.38],[0.452,-0.69],[0.556,-0.69]];
var ecPH_Uni = [[0,0.64],[0,-1.51],[0,-1.60],[0.029,0.35],[0.051,-1.27],[0.145,0.46],[0.170,-0.38],[0.215,0.42],[0.397,0.42],[0.379,-0.44],[0.466,-0.69],[0.499,-1.80],[0.526,-1.79],[0.170,3.36]];

var FONT = '"Liberation Sans", Arial, sans-serif';
var INK = "#1a1a1a";

// panel layout: grid [left, top, width, height], x range, label squeeze k, y range and ticks
var panels = [
    { grid: [184, 110, 444, 469], x: [-0.037, 0.837], k: 0.82, y: [-4.90, 4.44], yt: [-2.5, 0, 2.5], yd: 1, ng: 55, hw: 2.2, vw: 1.3,
      lg: [649, 182, 6], ph: [642, 162], tag: ["(a)", 135, 119],
      data: { Ascomycota: amCC_Asc, Basidiomycota: amCC_Bas, Chytridiomycota: amCC_Chy, Entorrhizomycota: [], Glomeromycota: amCC_Glo, Kickxellomycota: amCC_Kic, Monoblepharomycota: amCC_Mon, Mortierellomycota: [], Mucoromycota: amCC_Muc, Rozellomycota: amCC_Roz, unidentified: amCC_Uni },
      notes: [["module hubs", 191, 128, 26], ["network", 523, 128, 25], ["hubs", 523, 158, 25], ["peripheral nodes 91.6%", 187, 514, 26], ["connectors", 519, 515, 22], ["8.4%", 525, 541, 23]] },
    { grid: [1006, 106, 420, 474], x: [-0.039, 0.839], k: 0.874, y: [-4.88, 4.41], yt: [-2.5, 0, 2.5], yd: 1, ng: 54, hw: 2.2, vw: 2.4,
      lg: [1451, 185, 6.2], ph: [1451, 166], tag: ["(b)", 940, 115],
      data: { Ascomycota: amCH_Asc, Basidiomycota: amCH_Bas, Chytridiomycota: amCH_Chy, Entorrhizomycota: amCH_Ent, Glomeromycota: amCH_Glo, Kickxellomycota: amCH_Kic, Mortierellomycota: [], Mucoromycota: amCH_Muc, Rozellomycota: amCH_Roz, unidentified: amCH_Uni },
      notes: [["module hubs", 1019, 125, 26], ["network", 1320, 117, 22], ["hubs 0.2%", 1322, 144, 22], ["peripheral nodes 89.6%", 1012, 526, 26], ["connectors", 1319, 520, 22], ["10.2%", 1322, 548, 23]] },
    { grid: [200, 625, 420, 473], x: [-0.040, 0.839], k: 0.868, y: [-5.06, 4.42], yt: [-5, -2.5, 0, 2.5], yd: 1, ng: 54, hw: 2.2, vw: 2.2,
      lg: [637, 731, 6.2], ph: [636, 713], tag: ["(c)", 140, 640], xName: 33,
      data: { Ascomycota: amPC_Asc, Basidiomycota: amPC_Bas, Chytridiomycota: amPC_Chy, Entorrhizomycota: amPC_Ent, Glomeromycota: amPC_Glo, Mortierellomycota: amPC_Mor, Mucoromycota: amPC_Muc, Rozellomycota: amPC_Roz, unidentified: amPC_Uni },
      notes: [["module hubs 0.4%", 207, 641, 26], ["network", 521, 641, 25], ["hubs", 521, 672, 25], ["peripheral nodes 96.8%", 205, 1042, 26], ["connectors", 513, 1042, 22], ["2.8%", 515, 1067, 23]] },
    { grid: [1003, 629, 417, 472], x: [-0.038, 0.839], k: 0.86, y: [-3.60, 4.35], yt: [-2, 0, 2, 4], yd: 0, ng: 39, hw: 2.0, vw: 1.3,
      lg: [1458, 711, 5.8], ph: [1457, 693], tag: ["(d)", 943, 640], xName: 35,
      data: { Ascomycota: amPH_Asc, Basidiomycota: amPH_Bas, Chytridiomycota: amPH_Chy, Entorrhizomycota: [], Glomeromycota: amPH_Glo, Kickxellomycota: [], Mortierellomycota: amPH_Mor, Mucoromycota: amPH_Muc, Rozellomycota: amPH_Roz, unidentified: amPH_Uni },
      notes: [["module hubs", 1014, 648, 26], ["network", 1318, 645, 25], ["hubs", 1318, 675, 25], ["peripheral nodes 87.2%", 1003, 1060, 26], ["connectors", 1314, 1056, 22], ["12.8%", 1317, 1083, 23]] },
    { grid: [197, 1281, 420, 469], x: [-0.037, 0.840], k: 0.879, y: [-7.30, 4.49], yt: [-5, -2.5, 0, 2.5], yd: 1, ng: 58, hw: 1.5, vw: 1.5,
      lg: [641, 1402, 6.1], ph: [640, 1382], tag: ["(a)", 128, 1293],
      data: { Ascomycota: ecCC_Asc, Basidiomycota: ecCC_Bas, Chytridiomycota: ecCC_Chy, Entorrhizomycota: [], Glomeromycota: ecCC_Glo, Monoblepharomycota: [], Mortierellomycota: ecCC_Mor, Mucoromycota: ecCC_Muc, Rozellomycota: ecCC_Roz, unidentified: ecCC_Uni },
      notes: [["module hub", 208, 1299, 26], ["1.0%", 208, 1330, 26], ["network", 515, 1299, 25], ["hubs", 515, 1330, 25], ["peripheral nodes 97.6%", 205, 1675, 26], ["connectors", 508, 1673, 22], ["1.4%", 509, 1700, 23]] },
    { grid: [1008, 1279, 418, 471], x: [-0.039, 0.839], k: 0.866, y: [-7.67, 4.55], yt: [-7.5, -5, -2.5, 0, 2.5], yd: 1, ng: 59, hw: 1.5, vw: 1.8,
      lg: [1456, 1412, 6.1], ph: [1453, 1392], tag: ["(b)", 926, 1273],
      data: { Ascomycota: ecCH_Asc, Basidiomycota: ecCH_Bas, Chytridiomycota: ecCH_Chy, Entorrhizomycota: [], Glomeromycota: ecCH_Glo, Mortierellomycota: ecCH_Mor, Mucoromycota: ecCH_Muc, Rozellomycota: ecCH_Roz, unidentified: ecCH_Uni },
      notes: [["module hubs 2.2%", 1010, 1293, 26], ["network", 1331, 1293, 25], ["hubs", 1331, 1323, 25], ["peripheral nodes 95.4%", 1010, 1673, 26], ["connectors", 1320, 1669, 22], ["2.4%", 1321, 1695, 23]] },
    { grid: [195, 1804, 419, 472], x: [-0.038, 0.841], k: 0.883, y: [-3.82, 4.37], yt: [-2, 0, 2, 4], yd: 0, ng: 56, hw: 2.0, vw: 1.8,
      lg: [676, 1877, 5.8], ph: [674, 1858], tag: ["(c)", 131, 1808], xName: 39,
      data: { Ascomycota: ecPC_Asc, Basidiomycota: ecPC_Bas, Chytridiomycota: ecPC_Chy, Entorrhizomycota: [], Glomeromycota: ecPC_Glo, Kickxellomycota: [], Mortierellomycota: [], Mucoromycota: ecPC_Muc, Rozellomycota: ecPC_Roz, unidentified: ecPC_Uni },
      notes: [["module hubs 3.6%", 205, 1823, 26], ["network", 518, 1817, 25], ["hubs", 518, 1847, 25], ["0.4%", 518, 1878, 25], ["peripheral nodes 95.2%", 202, 2210, 26], ["connectors", 506, 2206, 22], ["0.8%", 507, 2235, 23]] },
    { grid: [1004, 1803, 421, 472], x: [-0.042, 0.840], k: 0.876, y: [-2.82, 4.31], yt: [-2, 0, 2, 4], yd: 0, ng: 53, hw: 1.6, vw: 1.6,
      lg: [1449, 1894, 5.8], ph: [1448, 1875], tag: ["(d)", 926, 1810], xName: 37,
      data: { Ascomycota: ecPH_Asc, Basidiomycota: ecPH_Bas, Chytridiomycota: ecPH_Chy, Entorrhizomycota: [], Glomeromycota: ecPH_Glo, Kickxellomycota: [], Mortierellomycota: ecPH_Mor, Mucoromycota: ecPH_Muc, Rozellomycota: ecPH_Roz, unidentified: ecPH_Uni },
      notes: [["module hubs 0.6%", 1010, 1817, 26], ["network", 1325, 1817, 25], ["hubs", 1325, 1847, 25], ["peripheral nodes 98.4%", 1027, 2263, 26], ["connectors", 1316, 2240, 22], ["1.0%", 1322, 2266, 23]] }
];

var grids = [], xAxes = [], yAxes = [], series = [], legends = [];
var graphics = [];

function txt(s, x, y, size, opt) {
    opt = opt || {};
    return {
        type: "text", x: x, y: y, rotation: opt.rot || 0, z: 100,
        style: {
            text: s, fill: opt.fill || INK, align: opt.align || "left", verticalAlign: "middle",
            font: (opt.bold ? "bold " : "") + size + "px " + FONT
        }
    };
}

panels.forEach(function (p, i) {
    grids.push({ left: p.grid[0], top: p.grid[1], width: p.grid[2], height: p.grid[3],
        show: true, borderColor: "#8f8f8f", borderWidth: 1.5, backgroundColor: "transparent" });

    // primary axis: real scale with tick marks
    xAxes.push({ type: "value", gridIndex: i, min: p.x[0], max: p.x[1],
        axisLine: { show: false, onZero: false },
        axisTick: { show: true, customValues: xTicks, length: 6, lineStyle: { color: "#666", width: 1.5 } },
        axisLabel: { show: false }, splitLine: { show: false } });
    // second axis carries the (squeezed) tick labels as printed in the figure
    var xa = { type: "value", gridIndex: i, position: "bottom", min: p.x[0] / p.k, max: p.x[1] / p.k,
        axisLine: { show: false, onZero: false }, axisTick: { show: false }, splitLine: { show: false },
        axisLabel: { customValues: xTicks, margin: 9, fontSize: 25, fontFamily: FONT, color: "#2b2b2b",
            formatter: function (v) { return v.toFixed(1); } } };
    if (p.xName) {
        xa.name = "Participation Coefficient";
        xa.nameLocation = "middle";
        xa.nameGap = p.xName;
        xa.nameTextStyle = { fontSize: 26, fontFamily: FONT, color: INK, padding: [0, 38, 0, 0] };
    }
    xAxes.push(xa);

    yAxes.push({ type: "value", gridIndex: i, min: p.y[0], max: p.y[1],
        axisLine: { show: false, onZero: false },
        axisTick: { show: true, customValues: p.yt, length: 6, lineStyle: { color: "#666", width: 1.5 } },
        axisLabel: { customValues: p.yt, margin: 9, fontSize: 25, fontFamily: FONT, color: "#2b2b2b",
            formatter: (function (d) { return function (v) { return v.toFixed(d); }; })(p.yd) },
        splitLine: { show: false },
        name: "within-module connectivity", nameLocation: "middle", nameGap: p.ng,
        nameTextStyle: { fontSize: 26, fontFamily: FONT, color: INK } });

    var names = Object.keys(p.data);
    names.forEach(function (nm, j) {
        var s = {
            type: "scatter", name: nm, xAxisIndex: 2 * i, yAxisIndex: i,
            data: p.data[nm], symbol: "circle", symbolSize: 12, silent: true,
            emphasis: { disabled: true },
            itemStyle: { color: phylumColors[phyla.indexOf(nm)], borderColor: "#2a2a2a", borderWidth: 0.9, opacity: 1 }
        };
        if (j === 0) {
            s.markLine = { silent: true, symbol: ["none", "none"], label: { show: false }, animation: false,
                data: [
                    { yAxis: 2.5, lineStyle: { type: [9, 6], width: p.hw, color: "#1f1f1f" } },
                    { xAxis: 0.62, lineStyle: { type: [7, 5], width: p.vw, color: "#333" } }
                ] };
        }
        series.push(s);
    });

    legends.push({ orient: "vertical", left: p.lg[0], top: p.lg[1], itemGap: p.lg[2],
        itemWidth: 8, itemHeight: 8, icon: "circle", padding: 0, selectedMode: false, data: names,
        itemStyle: { borderColor: "#333", borderWidth: 0.8 },
        textStyle: { fontSize: 26, fontFamily: FONT, color: INK, lineHeight: 26, padding: [0, 0, 0, 3] } });

    graphics.push(txt("Phylum", p.ph[0], p.ph[1], 26));
    graphics.push(txt(p.tag[0], p.tag[1], p.tag[2], 29, { bold: true, fill: "#2f7a35" }));
    p.notes.forEach(function (n) { graphics.push(txt(n[0], n[1], n[2], n[3])); });
});

// section frames
function frame(x, y, w, h, color) {
    return { type: "rect", z: 1, shape: { x: x, y: y, width: w, height: h },
        style: { fill: "none", stroke: color, lineWidth: 1.5, lineDash: [6, 5] } };
}
function vline(x, y1, y2) {
    return { type: "line", z: 1, shape: { x1: x, y1: y1, x2: x, y2: y2 },
        style: { stroke: "#b7b0de", lineWidth: 1.5, lineDash: [6, 4] } };
}
function box(x, y, w, h, color) {
    return { type: "rect", z: 2, shape: { x: x, y: y, width: w, height: h }, style: { fill: color } };
}
graphics.push(frame(95, 47, 817, 1115, "#c68a8a"), frame(914, 47, 820, 1115, "#8a8ac6"),
    vline(910, 47, 1162), vline(916, 47, 1162));
graphics.push(frame(95, 1216, 817, 1131, "#c68a8a"), frame(914, 1216, 820, 1131, "#8a8ac6"),
    vline(910, 1216, 2347), vline(916, 1216, 2347));

graphics.push(txt("(A) AM trees", 91, 19, 32, { bold: true }));
graphics.push(txt("(B) EcM trees", 91, 1193, 32, { bold: true }));

graphics.push(box(386, 50, 266, 50, "#e8c39e"), txt("Con-soil", 519, 75, 34, { align: "center" }));
graphics.push(box(1203, 50, 287, 50, "#a5c9c6"), txt("Hetero-soil", 1346, 75, 34, { align: "center" }));
graphics.push(box(395, 1218, 265, 54, "#e8c39e"), txt("Con-soil", 527, 1245, 34, { align: "center" }));
graphics.push(box(1212, 1218, 243, 54, "#a5c9c6"), txt("Hetero-soil", 1333, 1245, 34, { align: "center" }));

graphics.push(box(13, 190, 62, 312, "#dea4a4"), txt("Control", 44, 360, 34, { align: "center", rot: Math.PI / 2 }));
graphics.push(box(15, 672, 65, 345, "#b6dba3"), txt("Phyllosphere", 48, 864, 34, { align: "center", rot: Math.PI / 2 }));
graphics.push(box(3, 1362, 63, 310, "#dea4a4"), txt("Control", 35, 1517, 34, { align: "center", rot: Math.PI / 2 }));
graphics.push(box(3, 1893, 63, 312, "#b6dba3"), txt("Phyllosphere", 35, 2049, 34, { align: "center", rot: Math.PI / 2 }));

var chart = echarts.init(document.getElementById("chart"), null, { renderer: "canvas" });
chart.setOption({
    animation: false,
    backgroundColor: "#ffffff",
    textStyle: { fontFamily: FONT },
    grid: grids,
    xAxis: xAxes,
    yAxis: yAxes,
    legend: legends,
    series: series,
    graphic: graphics
});
</script>
</body>
</html>
